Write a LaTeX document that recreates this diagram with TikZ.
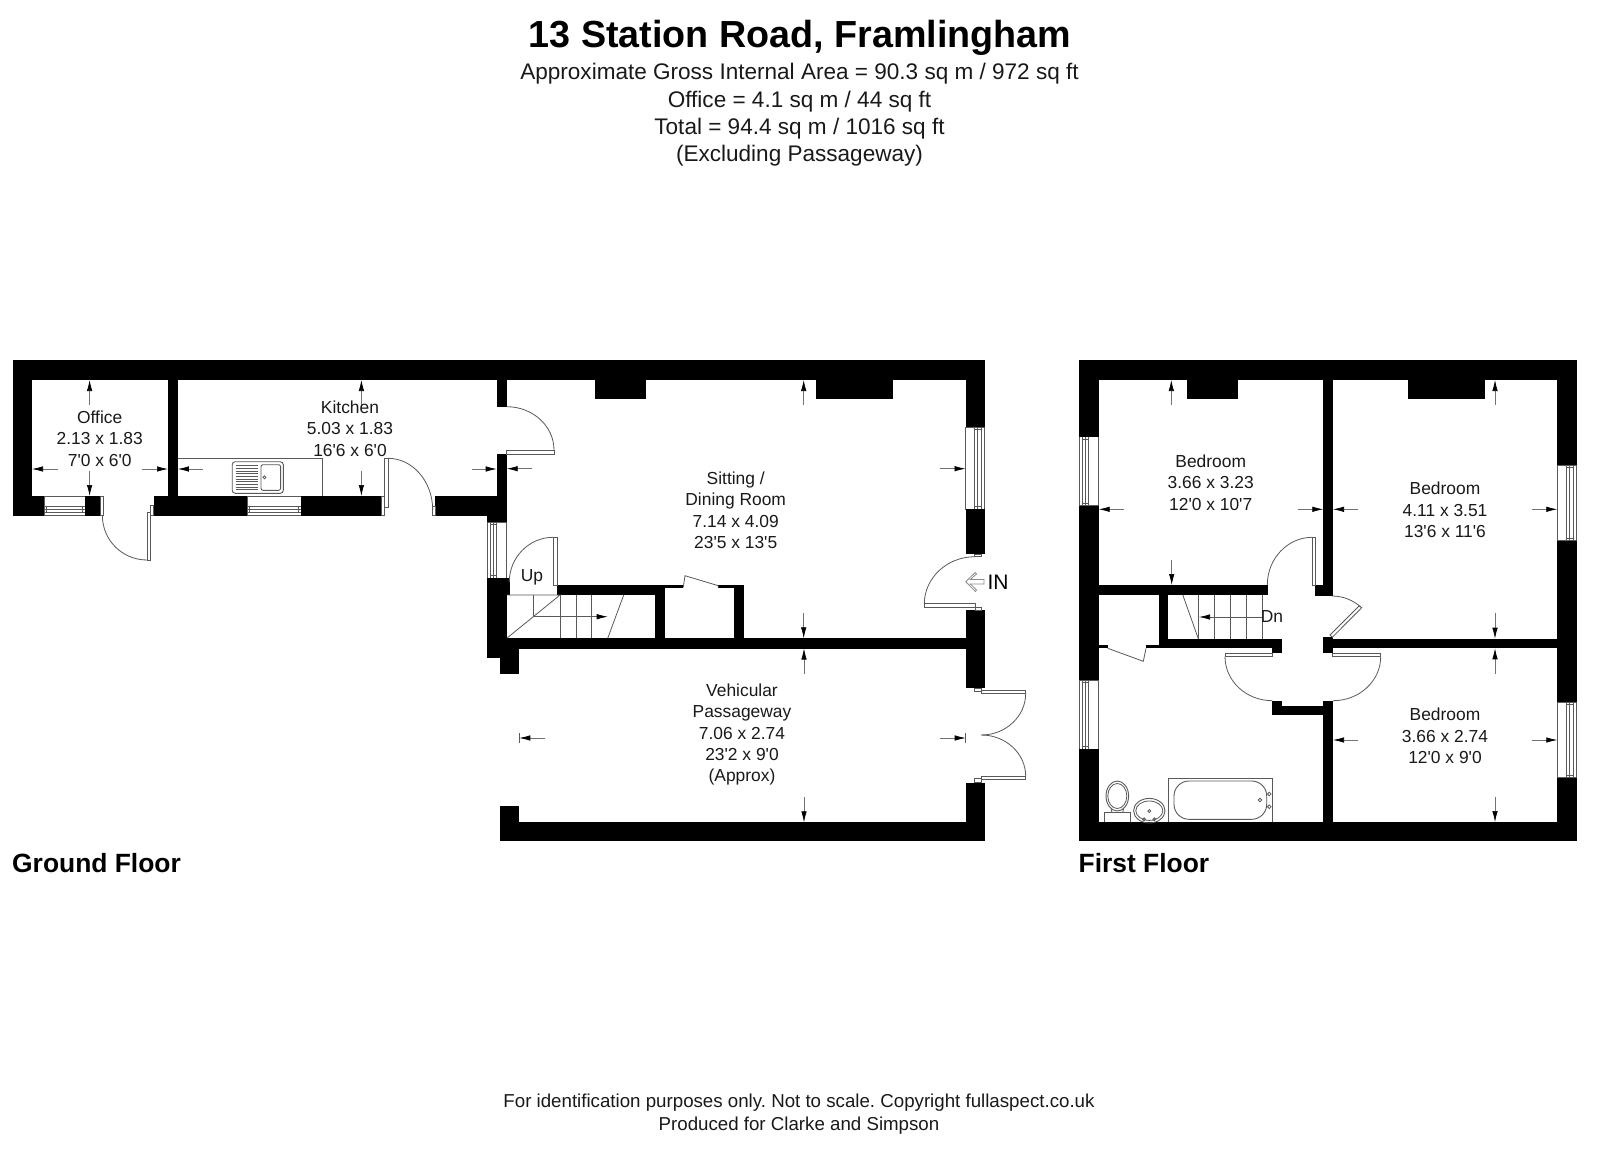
\documentclass[tikz,border=0pt]{standalone}
\usepackage{fontspec}
\newfontfamily\lsans{Liberation Sans}
\usetikzlibrary{arrows.meta,calc}
\tikzset{
  wall/.style={fill=black,draw=none},
  fine/.style={draw=black!65,line width=0.8pt},
  fitting/.style={draw=black!65,line width=0.9pt},
  leaf/.style={draw=black!65,line width=0.8pt,fill=white},
  dimarr/.style={draw=black!55,line width=0.7pt,-{Latex[length=11pt,width=5.5pt,black]}},
  stairarr/.style={draw=black!65,line width=0.7pt,-{Latex[length=11pt,width=5.5pt,black]}},
  room/.style={align=center,inner sep=0pt,font=\lsans\frenchspacing\fontsize{17.4}{21.3}\selectfont,text=black!90},
  head/.style={align=center,inner sep=0pt,font=\lsans\frenchspacing\fontsize{22.55}{27.3}\selectfont,text=black!90},
  foot/.style={align=center,inner sep=0pt,font=\lsans\frenchspacing\fontsize{18.7}{22.4}\selectfont,text=black!90},
  floorname/.style={anchor=west,inner sep=0pt,font=\lsans\fontsize{26.4}{30}\selectfont\bfseries},
}
\newcommand{\wl}[4]{\fill[wall] (#1,#2) rectangle (#3,#4);}
\newcommand{\lf}[4]{\draw[leaf] (#1,#2) rectangle (#3,#4);}
% quarter curve from A via corner C to B
\newcommand{\qc}[6]{\draw[fine] (#1,#2) .. controls ($(#1,#2)!.552!(#3,#4)$) and ($(#5,#6)!.552!(#3,#4)$) .. (#5,#6);}
% vertical window: xl xr y1 y2 il ir
\newcommand{\winv}[6]{%
  \draw[fine,fill=white] (#1,#3) rectangle (#2,#4);
  \draw[fine] (#5,#3) rectangle (#6,#4);
  \draw[fine] ($(#5,#3)+(2.6,0)$) -- ($(#5,#4)+(2.6,0)$);
  \draw[fine] ($(#5,#3)+(0,2.5)$) -- ($(#6,#3)+(0,2.5)$);
  \draw[fine] ($(#5,#4)+(0,-2.5)$) -- ($(#6,#4)+(0,-2.5)$);
}
% horizontal window: x1 x2 yt yb it ib
\newcommand{\winh}[6]{%
  \draw[fine,fill=white] (#1,#3) rectangle (#2,#4);
  \draw[fine] (#1,#5) rectangle (#2,#6);
  \draw[fine] ($(#1,#5)+(0,2.6)$) -- ($(#2,#5)+(0,2.6)$);
  \draw[fine] ($(#1,#5)+(2.5,0)$) -- ($(#1,#6)+(2.5,0)$);
  \draw[fine] ($(#2,#5)+(-2.5,0)$) -- ($(#2,#6)+(-2.5,0)$);
}
\begin{document}
\begin{tikzpicture}[x=1pt,y=-1pt]
\useasboundingbox (0,0) rectangle (1600,1161);

% ---------- Titles
\node[inner sep=0pt,font=\lsans\fontsize{37.7}{40}\selectfont\bfseries] (title) at (800,38) {13 Station Road, Framlingham};
\node[head] (areas) at (799.5,115) {Approximate Gross Internal Area = 90.3 sq m / 972 sq ft\\Office = 4.1 sq m / 44 sq ft\\Total = 94.4 sq m / 1016 sq ft\\(Excluding Passageway)};
\node[foot] (footer) at (799,1114) {For identification purposes only. Not to scale. Copyright fullaspect.co.uk\\Produced for Clarke and Simpson};
\node[floorname] (ground) at (12,863) {Ground Floor};
\node[floorname] (first) at (1078.5,863) {First Floor};

% ---------- Ground floor windows
\winh{44.3}{85.2}{496}{515.7}{506.7}{512.7}
\winh{247.1}{300.9}{496}{515.7}{506.7}{512.7}
\winv{487.3}{506.7}{522}{578.3}{490.7}{496.7}
\winv{965.5}{984.7}{427.3}{509}{974.3}{981}

% ---------- Ground floor walls
\wl{12.5}{360}{984.7}{380}
\wl{12.5}{380}{32}{515.7}
\wl{12.5}{496}{44.3}{515.7}
\wl{85.2}{496}{100}{515.7}
\wl{168}{380}{177.8}{496}
\wl{153.8}{496}{247.1}{515.7}
\wl{300.9}{496}{381.7}{515.7}
\wl{435}{496}{506.7}{515.7}
\wl{496.7}{380}{506.7}{406.7}
\wl{496.7}{454}{506.7}{496}
\wl{487.3}{515}{506.7}{522}
\wl{487.3}{578.3}{509.5}{595}
\wl{487.3}{595}{506.7}{640}
\wl{487.3}{638.3}{965.7}{648.5}
\wl{487.3}{648}{519.3}{658.3}
\wl{500}{658}{519.3}{674}
\wl{557.3}{585}{665}{595}
\wl{655}{585}{665}{638.5}
\wl{665}{585}{683.3}{588.3}
\wl{718.3}{585}{744}{588.3}
\wl{734.3}{585}{744}{638.5}
\wl{595}{380}{646}{398.7}
\wl{816.3}{380}{893}{398.7}
\wl{965.5}{380}{984.7}{427.3}
\wl{965.5}{509}{984.7}{554}
\wl{965.5}{610.3}{984.7}{688.3}
\wl{965.5}{782.7}{984.7}{841.3}
\wl{500}{822.3}{984.7}{841.3}
\wl{500}{806.3}{519.3}{822.5}

% ---------- Ground floor doors
\lf{100}{496}{103}{515.7}
\lf{147}{512}{150.4}{560}
\lf{150.4}{505.7}{153.8}{515.7}
\qc{102.4}{515.7}{102.4}{560}{147}{560}
\lf{381.7}{496}{384.4}{515.7}
\lf{384.4}{458.3}{388}{507.7}
\lf{432.7}{506}{435}{515.7}
\qc{388}{458.3}{432.7}{458.3}{432.7}{510}
\lf{506.7}{450}{554}{454}
\qc{506.7}{406.7}{554}{406.7}{554}{450}
\lf{553.3}{537.3}{557.3}{585}
\qc{553.3}{537.3}{509.3}{537.3}{509.3}{582}
\lf{924.3}{603.7}{975}{607.3}
\lf{974.7}{554}{981.7}{556.7}
\lf{975}{607.3}{981.7}{610.3}
\qc{975}{556.7}{924.3}{556.7}{924.3}{604}
\lf{981.3}{690.7}{1025.7}{693.3}
\lf{974.7}{688.3}{981.3}{691.5}
\qc{1025.7}{693.3}{1025.7}{735}{981.3}{735}
\lf{981.3}{776.3}{1025.7}{779.7}
\lf{974.7}{778.5}{981.3}{782.7}
\qc{981.3}{735}{1025.7}{735}{1025.7}{776.3}
\draw[fine] (683.3,587.3) -- (685,575.7) -- (718.3,585.7) -- (718.3,588);

% ---------- Kitchen fittings
\draw[fitting] (177.8,458.3) -- (322.9,458.3) -- (322.9,496);
\draw[fitting,rounded corners=3pt] (232.2,461.7) rectangle (283.3,493.3);
\draw[fitting,rounded corners=2pt] (261,464.7) rectangle (280.6,490.3);
\foreach \yy in {465.5,468.2,470.9,473.6,476.3,479,481.7,484.4,487.1,489.8}
  \draw[fine] (235.6,\yy) -- (258,\yy);
\draw[fine] (264.4,477.3) circle[radius=1.5];

% ---------- Ground stairs
\draw[fine] (506.7,595) -- (560,595) -- (506.7,638.3);
\draw[fine] (533.3,595) -- (533.3,616.7);
\draw[fine] (560,595) -- (560,638.3);
\draw[fine] (576,595) -- (576,638.3);
\draw[fine] (591.7,595) -- (591.7,638.3);
\draw[fine] (607.7,638.3) -- (623.7,595);
\draw[stairarr] (533.3,616.7) -- (607.7,616.7);

% ---------- IN arrow
\draw[draw=black!45,line width=0.8pt,fill=white] (965.7,581.7) -- (975.3,572.5) -- (976.5,574) -- (970.3,579.5) -- (984,579.5) -- (984,584) -- (970.3,584) -- (976.5,590) -- (975.3,591.5) -- cycle;

% ---------- Ground dimension arrows
\draw[dimarr] (89.6,405) -- (89.6,380);
\draw[dimarr] (89.6,471) -- (89.6,496);
\draw[dimarr] (57.5,469) -- (32,469);
\draw[dimarr] (142,469) -- (168,469);
\draw[dimarr] (202.8,469) -- (177.8,469);
\draw[dimarr] (471.6,469) -- (496.7,469);
\draw[dimarr] (361.4,405) -- (361.4,380);
\draw[dimarr] (361.4,471) -- (361.4,496);
\draw[dimarr] (532.3,468.7) -- (506.7,468.7);
\draw[dimarr] (940,468.7) -- (965.5,468.7);
\draw[dimarr] (803.7,405) -- (803.7,380);
\draw[dimarr] (803.7,613) -- (803.7,638.3);
\draw[dimarr] (804,674) -- (804,648.5);
\draw[dimarr] (804,797.3) -- (804,822.3);
\draw[dimarr] (545,738) -- (519.3,738);
\draw[fine] (519.3,733) -- (519.3,743);
\draw[dimarr] (940,738) -- (965.7,738);
\draw[fine] (965.7,733) -- (965.7,743);

% ---------- First floor windows
\winv{1079.3}{1098.7}{436.7}{505.7}{1082.7}{1088.7}
\winv{1079.3}{1098.7}{680}{749.3}{1082.7}{1088.7}
\winv{1557.3}{1576.7}{465}{540.7}{1566.5}{1573}
\winv{1557.3}{1576.7}{702.3}{777.7}{1566.5}{1573}

% ---------- First floor walls
\wl{1079.3}{360}{1576.7}{380}
\wl{1079.3}{380}{1098.7}{436.7}
\wl{1079.3}{505.7}{1098.7}{680}
\wl{1079.3}{749.3}{1098.7}{841.3}
\wl{1079.3}{822}{1576.7}{841.3}
\wl{1557.3}{380}{1576.7}{465}
\wl{1557.3}{540.7}{1576.7}{702.3}
\wl{1557.3}{777.7}{1576.7}{841.3}
\wl{1186.7}{380}{1238.3}{398.7}
\wl{1408.3}{380}{1485}{398.7}
\wl{1323.3}{380}{1333}{596}
\wl{1315.3}{585}{1333}{596}
\wl{1098.7}{585}{1268}{594.7}
\wl{1158.7}{594.7}{1168.3}{640}
\wl{1158.7}{638.7}{1282.3}{648.3}
\wl{1272.3}{648}{1282.3}{653.3}
\wl{1146}{645.3}{1158.7}{648.3}
\wl{1098.7}{645.3}{1107.7}{648.3}
\wl{1272.3}{705.7}{1333}{715}
\wl{1272.3}{700.7}{1282.3}{706}
\wl{1323.3}{700.7}{1333}{822.5}
\wl{1323.3}{637.3}{1333}{653.3}
\wl{1333}{638.7}{1557.5}{648.3}

% ---------- First floor doors
\lf{1312.3}{537.3}{1315.3}{585}
\qc{1312.3}{537.3}{1267.3}{537.3}{1267.3}{585}
\draw[fine] (1331.7,596) .. controls (1343,596) and (1353,600) .. (1361.7,607.7);
\draw[leaf] (1361.7,607.7) -- (1359,606) -- (1330,635) -- (1332.3,637.3) -- cycle;
\lf{1332.3}{653.3}{1380.7}{656.7}
\qc{1380.7}{656.7}{1380.7}{700.7}{1333}{700.7}
\lf{1225}{653.3}{1272.3}{656.7}
\qc{1225}{656.7}{1225}{700.7}{1272.3}{700.7}
\draw[fine] (1107.7,648.3) -- (1143.3,661.3) -- (1146,648.3);

% ---------- First floor stairs
\draw[fine] (1182.7,594.7) -- (1198.3,638.7);
\foreach \xx in {1198.3,1214.3,1230.3,1246.3,1262}
  \draw[fine] (\xx,594.7) -- (\xx,638.7);
\draw[stairarr] (1262,617) -- (1199,617);

% ---------- Bathroom
\draw[fitting] (1168,822) -- (1168,778) -- (1272.7,778) -- (1272.7,822);
\draw[fitting,rounded corners=15pt] (1174,781) rectangle (1266.7,819.3);
\draw[fine] (1260,800) circle[radius=1.8];
\draw[fine] (1269.3,794) circle[radius=1.8];
\draw[fine] (1269.3,806.7) circle[radius=1.8];
\draw[fitting] (1149.3,810.7) ellipse[x radius=15.7,y radius=12.3];
\draw[fine] (1149.3,810.7) ellipse[x radius=13.5,y radius=9.7];
\draw[fine] (1149.3,811) circle[radius=1.5];
\draw[fine] (1144,819.3) circle[radius=1.5];
\draw[fine] (1154.3,819.3) circle[radius=1.5];
\draw[fitting] (1104.3,822) -- (1104.3,812.7) -- (1130.7,812.7) -- (1130.7,822);
\draw[fitting] (1117.3,796) ellipse[x radius=11.3,y radius=15];
\draw[fine] (1117.3,796) ellipse[x radius=9.5,y radius=12.5];
\draw[fine] (1111,808.7) -- (1112,812.7);
\draw[fine] (1123.6,808.7) -- (1122.6,812.7);

% ---------- First floor dimension arrows
\draw[dimarr] (1171.3,405) -- (1171.3,380);
\draw[dimarr] (1171.7,560) -- (1171.7,585);
\draw[dimarr] (1124,509.3) -- (1098.7,509.3);
\draw[dimarr] (1297.7,509.3) -- (1323.3,509.3);
\draw[dimarr] (1495,405) -- (1495,380);
\draw[dimarr] (1495,613.3) -- (1495,638.7);
\draw[dimarr] (1358.3,509.3) -- (1333,509.3);
\draw[dimarr] (1532.3,509.3) -- (1557.3,509.3);
\draw[dimarr] (1495,674) -- (1495,648.3);
\draw[dimarr] (1495,797) -- (1495,822);
\draw[dimarr] (1358.3,740) -- (1333,740);
\draw[dimarr] (1532.3,740) -- (1557.3,740);

% ---------- Labels
\node[room] (office) at (99.7,438.7) {Office\\2.13 x 1.83\\7'0 x 6'0};
\node[room] (kitchen) at (350,428.7) {Kitchen\\5.03 x 1.83\\16'6 x 6'0};
\node[room] (sitting) at (735.7,510.3) {Sitting /\\Dining Room\\7.14 x 4.09\\23'5 x 13'5};
\node[room] (passage) at (742,734.5) {Vehicular\\Passageway\\7.06 x 2.74\\23'2 x 9'0\\(Approx)};
\node[room] (bed1) at (1210.7,482.7) {Bedroom\\3.66 x 3.23\\12'0 x 10'7};
\node[room] (bed2) at (1445,510) {Bedroom\\4.11 x 3.51\\13'6 x 11'6};
\node[room] (bed3) at (1445,736) {Bedroom\\3.66 x 2.74\\12'0 x 9'0};
\node[room] (up) at (532,577.7) {Up};
\node[room] (dn) at (1272,616.7) {Dn};
\node[inner sep=0pt,font=\lsans\fontsize{21}{24}\selectfont] (in) at (998,582.7) {IN};
\end{tikzpicture}
\end{document}
